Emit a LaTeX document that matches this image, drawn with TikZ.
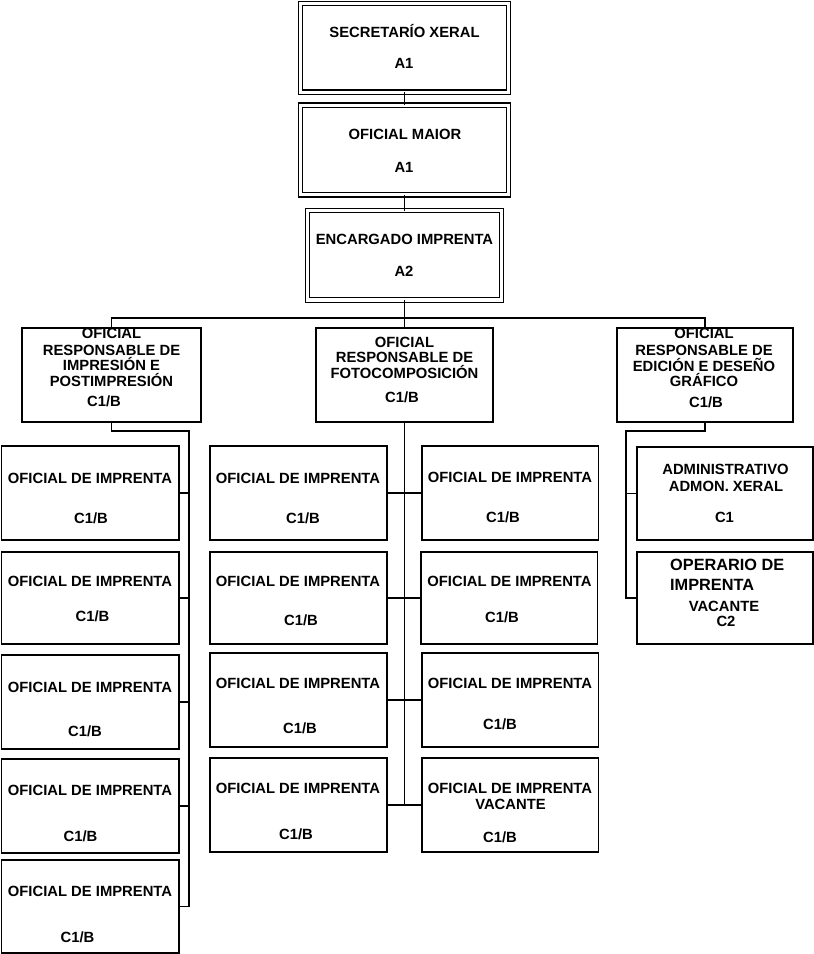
\documentclass[tikz,border=0pt]{standalone}
\usepackage{fontspec}
\setmainfont{Liberation Sans}
\newcounter{tn}
\begin{document}
\begin{tikzpicture}[x=1pt,y=-1pt,
  box/.style={draw, line width=1.5pt, inner sep=0pt, outer sep=0pt},
  dbox/.style={draw, line width=1.3pt, double=white, double distance=3.1pt, inner sep=0pt, outer sep=0pt},
  conn/.style={line width=1.5pt},
  txt/.style={anchor=base, inner sep=0pt, font=\fontsize{14.8}{16}\selectfont\bfseries},
  bigtxt/.style={anchor=base west, font=\fontsize{16.3}{18}\selectfont\bfseries}]
\newcommand\bx[6][box]{\node[#1, minimum width={#5-#3}, minimum height={#6-#4}] (#2) at ({(#3+#5)/2},{(#4+#6)/2}) {};}
\newcommand\tx[4][]{\stepcounter{tn}\node[txt,#1] (t\arabic{tn}) at (#2,#3) {#4};}
\fill[white] (0,0) rectangle (814,954);
\useasboundingbox (0,0) rectangle (814,954);

% top chain
\bx[dbox]{B1}{300.5}{3.5}{508.5}{92.3}
\bx[dbox]{B2}{300.5}{105.3}{508.5}{194.7}
\bx[dbox]{B3}{307.5}{210.5}{501.5}{300}
% level 2
\bx{P1}{22}{328}{201}{422}
\bx{P2}{316}{328}{493}{422}
\bx{P3}{617}{328}{793}{422}
% left column
\bx{L1}{1.5}{446}{179}{540}
\bx{L2}{1.5}{552}{179}{644}
\bx{L3}{1.5}{655}{179}{749}
\bx{L4}{1.5}{759}{179}{853}
\bx{L5}{1.5}{860}{179}{953}
% middle columns
\bx{M1}{210}{446}{387}{540}
\bx{M2}{210}{552}{387}{644}
\bx{M3}{210}{653}{387}{747}
\bx{M4}{210}{758}{387}{852}
\bx{R1}{422}{446}{598.5}{540}
\bx{R2}{421}{552}{597.5}{644}
\bx{R3}{422}{653}{598.5}{747}
\bx{R4}{422}{758}{598.5}{852}
% right group
\bx{Q1}{637}{447}{813}{540}
\bx{Q2}{637}{552}{813}{644}

% connectors
\coordinate (j) at (404.5,318);
\draw[conn] (B1.south) -- (B2.north);
\draw[conn] (B2.south) -- (B2.south |- B3.north);
\draw[conn] (B3.south -| j) -- (j) -- (j |- P2.north);
\draw[conn] (P1.north) |- (j) -| (P3.north);
\coordinate (lt) at (189,431);
\coordinate (lb) at (189,906.5);
\draw[conn] (P1.south) |- (lt) -- (lb) -- (L5.east);
\foreach \b in {L1,L2,L3,L4} \draw[conn] (\b.east) -- (\b.east -| lt);
\coordinate (mb) at (404.5,805);
\draw[conn] (P2.south) -- (mb);
\draw[conn] (M1.east) -- (R1.west);
\draw[conn] (M2.east) -- (R2.west);
\draw[conn] (M3.east) -- (R3.west);
\draw[conn] (M4.east) -- (R4.west);
\coordinate (rt) at (626,431);
\coordinate (rb) at (626,598);
\draw[conn] (P3.south) |- (rt) -- (rb) -- (Q2.west);
\draw[conn] (Q1.west) -- (Q1.west -| rt);

% texts
\tx{404.5}{37}{SECRETARÍO XERAL}
\tx{404}{68}{A1}
\tx{405}{139}{OFICIAL MAIOR}
\tx{404}{172}{A1}
\tx{404.5}{244}{ENCARGADO IMPRENTA}
\tx{404}{276}{A2}

\tx{111.5}{338}{OFICIAL}
\tx{111.5}{355}{RESPONSABLE DE}
\tx{111.5}{370.5}{IMPRESIÓN E}
\tx{111.5}{386.5}{POSTIMPRESIÓN}
\tx{104}{406}{C1/B}

\tx{404.5}{347}{OFICIAL}
\tx{404.5}{362}{RESPONSABLE DE}
\tx{404.5}{378}{FOTOCOMPOSICIÓN}
\tx{402}{402}{C1/B}

\tx{704}{338}{OFICIAL}
\tx{704}{355}{RESPONSABLE DE}
\tx{704}{371}{EDICIÓN E DESEÑO}
\tx{704}{386}{GRÁFICO}
\tx{706}{407}{C1/B}

\tx{90}{483}{OFICIAL DE IMPRENTA}
\tx{91}{523}{C1/B}
\tx{90}{586}{OFICIAL DE IMPRENTA}
\tx{92.5}{621}{C1/B}
\tx{90}{692}{OFICIAL DE IMPRENTA}
\tx{85}{736}{C1/B}
\tx{90}{795}{OFICIAL DE IMPRENTA}
\tx{80.5}{841}{C1/B}
\tx{90}{896}{OFICIAL DE IMPRENTA}
\tx{77.5}{942}{C1/B}

\tx{298}{483}{OFICIAL DE IMPRENTA}
\tx{303}{523}{C1/B}
\tx{298}{586}{OFICIAL DE IMPRENTA}
\tx{301}{625}{C1/B}
\tx{298}{688}{OFICIAL DE IMPRENTA}
\tx{300}{733}{C1/B}
\tx{298}{793}{OFICIAL DE IMPRENTA}
\tx{296}{839}{C1/B}

\tx{510}{482}{OFICIAL DE IMPRENTA}
\tx{503}{522}{C1/B}
\tx{509.5}{586}{OFICIAL DE IMPRENTA}
\tx{502}{622}{C1/B}
\tx{510}{688}{OFICIAL DE IMPRENTA}
\tx{500}{729}{C1/B}
\tx{510}{793}{OFICIAL DE IMPRENTA}
\tx{510.5}{809}{VACANTE}
\tx{500}{842}{C1/B}

\tx{725.5}{474}{ADMINISTRATIVO}
\tx{726}{491}{ADMON. XERAL}
\tx{724.5}{522}{C1}
\tx[bigtxt]{670}{570}{OPERARIO DE}
\tx[bigtxt]{670}{590}{IMPRENTA}
\tx{724}{611}{VACANTE}
\tx{726}{626}{C2}
\end{tikzpicture}
\end{document}
